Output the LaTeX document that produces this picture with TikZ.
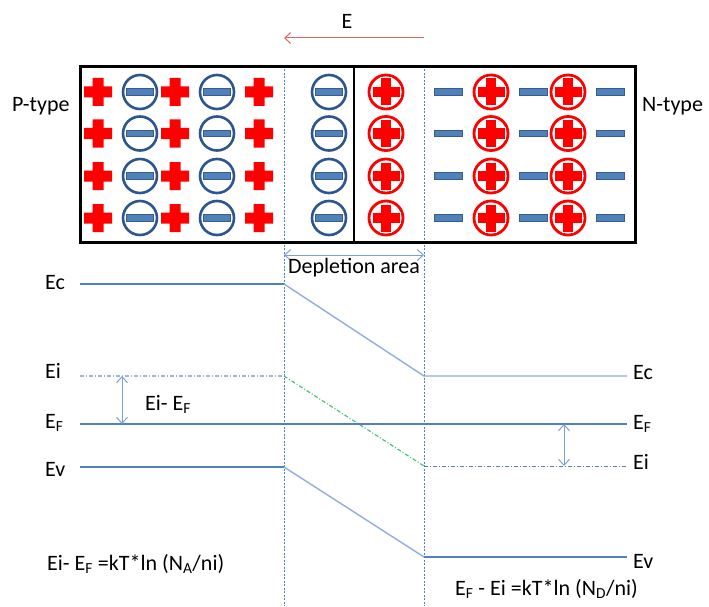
\documentclass[tikz,border=0pt]{standalone}
\usepackage{fontspec}
\setmainfont{Carlito}
\usetikzlibrary{arrows.meta}
\definecolor{plusred}{HTML}{FF0000}
\definecolor{mblue}{HTML}{4F81BD}
\definecolor{mdark}{HTML}{385D8A}
\definecolor{cblue}{HTML}{2B5690}
\definecolor{lineblue}{HTML}{4F81BD}
\definecolor{lightline}{HTML}{8FAEDC}
\definecolor{dashblue}{HTML}{9DB5DA}
\definecolor{eigreen}{HTML}{4CC07A}
\definecolor{arrblue}{HTML}{7DA0D8}
\definecolor{earrow}{HTML}{E06363}
\tikzset{
  redplus/.pic={\fill[plusred] (-14,-5.5) rectangle (14,5.5) (-5.5,-14) rectangle (5.5,14);},
  cplus/.pic={\draw[plusred,line width=2.8pt] (0,0) circle[radius=17pt];
    \filldraw[fill=plusred,draw=white,line width=1pt] (-14,-5.5)--(-5.5,-5.5)--(-5.5,-14)--(5.5,-14)--(5.5,-5.5)--(14,-5.5)--(14,5.5)--(5.5,5.5)--(5.5,14)--(-5.5,14)--(-5.5,5.5)--(-14,5.5)--cycle;},
  cminus/.pic={\draw[cblue,line width=2.6pt] (0,0) circle[radius=17pt];
    \filldraw[fill=mblue,draw=mdark,line width=0.8pt] (-13.5,-3.3) rectangle (13.5,3.3);},
  bminus/.pic={\filldraw[fill=mblue,draw=mdark,line width=0.8pt] (-14,-3.3) rectangle (14,3.3);},
  lvl/.style={lineblue,line width=1.2pt},
  slope/.style={lightline,line width=1.4pt},
  vdash/.style={lineblue,line width=0.8pt,dash pattern=on 2pt off 1.5pt},
  eidash/.style={dashblue,line width=1.2pt,dash pattern=on 4pt off 2pt on 1pt off 2pt},
  dblarr/.style={arrblue,line width=1pt,{Straight Barb[length=6pt,width=11pt]}-{Straight Barb[length=6pt,width=11pt]}},
  lbl/.style={anchor=base west,inner sep=0pt},
}
\begin{document}
\begin{tikzpicture}[x=1pt,y=-1pt,font=\fontsize{22}{26}\selectfont]
\useasboundingbox (0,0) rectangle (709,607);
% dashed depletion boundaries
\coordinate (dlt) at (284,66);
\coordinate (dlb) at (284,606);
\coordinate (drt) at (424,66);
\coordinate (drb) at (424,606);
\draw[vdash] (dlt) -- (dlb);
\draw[vdash] (drt) -- (drb);
% box
\draw[line width=3pt] (80.5,66.5) rectangle (635,242);
\coordinate (jt) at (354,66.5);
\coordinate (jb) at (354,242);
\draw[line width=2.5pt] (jt) -- (jb);
% charges
\foreach \y in {92,133.5,176,218}{
  \foreach \x in {98,175,259}{ \pic at (\x,\y) {redplus}; }
  \foreach \x in {140,217,329}{ \pic at (\x,\y) {cminus}; }
  \foreach \x in {386,491,568}{ \pic at (\x,\y) {cplus}; }
  \foreach \x in {448.5,533,610}{ \pic at (\x,\y) {bminus}; }
}
% labels
\node[lbl] (ptype) at (12,112) {P-type};
\node[lbl] (ntype) at (642,112) {N-type};
% field arrow
\node (elbl) at (347,21) {E};
\coordinate (ea) at (424,38);
\coordinate (eb) at (284,38);
\draw[earrow,line width=1pt,-{Straight Barb[length=6pt,width=11pt]}] (ea) -- (eb);
% depletion arrow
\coordinate (da) at (284,255);
\coordinate (db) at (424,255);
\draw[dblarr] (da) -- (db);
\node[anchor=base,inner sep=0pt] (dep) at (354,273) {Depletion area};
% energy levels
\coordinate (ec1) at (80,284); \coordinate (ec2) at (284,284);
\coordinate (ec3) at (424,376); \coordinate (ec4) at (627,376);
\draw[lvl] (ec1) -- (ec2);
\draw[slope] (ec2) -- (ec3) -- (ec4);
\coordinate (ei1) at (80,376); \coordinate (ei2) at (284,376);
\coordinate (ei3) at (424,466); \coordinate (ei4) at (627,466);
\draw[eidash] (ei1) -- (ei2);
\draw[eidash,eigreen] (ei2) -- (ei3);
\draw[eidash,lineblue,line width=1pt] (ei3) -- (ei4);
\coordinate (ef1) at (80,424); \coordinate (ef2) at (627,424);
\draw[lvl] (ef1) -- (ef2);
\coordinate (ev1) at (80,467); \coordinate (ev2) at (284,467);
\coordinate (ev3) at (424,557); \coordinate (ev4) at (627,557);
\draw[lvl] (ev1) -- (ev2);
\draw[slope] (ev2) -- (ev3);
\draw[lvl] (ev3) -- (ev4);
% left labels
\node[lbl] (lec) at (45,289) {Ec};
\node[lbl] (lei) at (45,378) {Ei};
\node[lbl] (lef) at (45,428) {E\textsubscript{F}};
\node[lbl] (lev) at (45,476) {Ev};
% right labels
\node[lbl] (rec) at (633,379) {Ec};
\node[lbl] (ref) at (633,429) {E\textsubscript{F}};
\node[lbl] (rei) at (633,469) {Ei};
\node[lbl] (rev) at (633,568) {Ev};
% gap arrows
\coordinate (ga1) at (122,376); \coordinate (ga2) at (122,424);
\draw[dblarr] (ga1) -- (ga2);
\node[lbl] (gl) at (145,410) {Ei- E\textsubscript{F}};
\coordinate (gb1) at (564,424); \coordinate (gb2) at (564,466);
\draw[dblarr] (gb1) -- (gb2);
% formulas
\node[lbl] (f1) at (47,570) {Ei- E\textsubscript{F} =kT*ln (N\textsubscript{A}/ni)};
\node[lbl] (f2) at (455,595) {E\textsubscript{F} - Ei =kT*ln (N\textsubscript{D}/ni)};
\end{tikzpicture}
\end{document}
